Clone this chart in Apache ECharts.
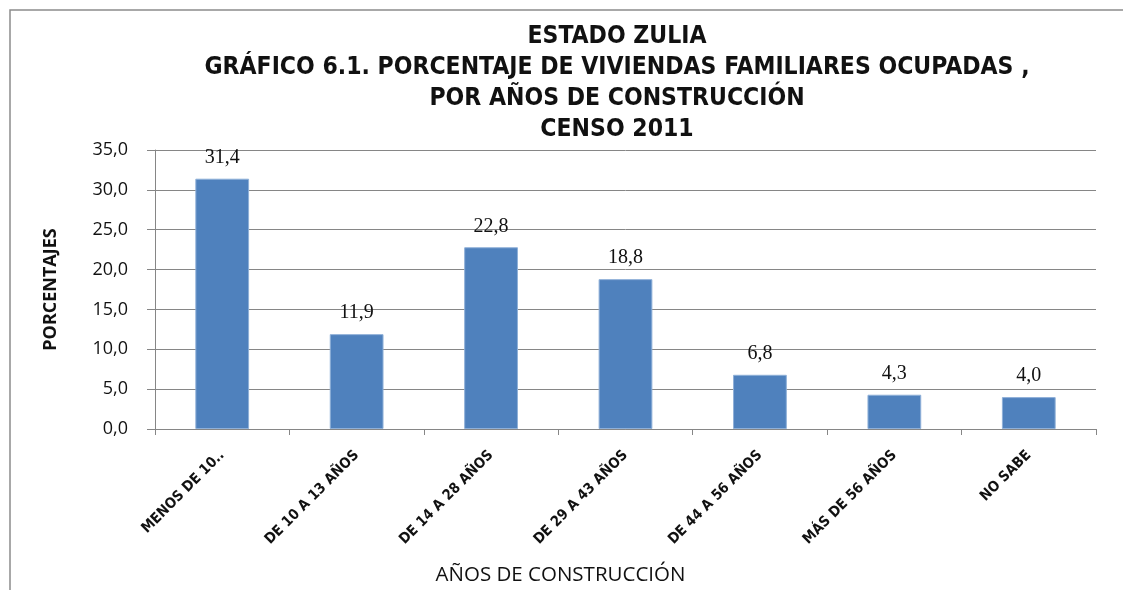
<!DOCTYPE html>
<html>
<head>
<meta charset="utf-8">
<script src="https://cdn.jsdelivr.net/npm/echarts@6/dist/echarts.min.js"></script>
<style>
	html, body { margin: 0; padding: 0; background: #fff; }
	#chart { width: 1123px; height: 590px; }
</style>
</head>
<body>
<div id="chart"></div>
<script>
var categories = ['MENOS DE 10..', 'DE 10 A 13 AÑOS', 'DE 14 A 28 AÑOS', 'DE 29 A 43 AÑOS', 'DE 44 A 56 AÑOS', 'MÁS DE 56 AÑOS', 'NO SABE'];
var porcentajes = [31.4, 11.9, 22.8, 18.8, 6.8, 4.3, 4.0];
var titleLines = ['ESTADO ZULIA', 'GRÁFICO 6.1. PORCENTAJE DE VIVIENDAS FAMILIARES OCUPADAS ,', 'POR AÑOS DE CONSTRUCCIÓN', 'CENSO 2011'];

function coma(v) {
	return Number(v).toFixed(1).replace('.', ',');
}

function initGraph(chartId) {
	var dom = document.getElementById(chartId);
	var myChart = echarts.init(dom);
	var condensed = '"DejaVu Sans Condensed", "Liberation Sans Narrow", sans-serif';

	var option = {
		animation: false,
		backgroundColor: '#fff',
		title: {
			text: titleLines.join('\n'),
			left: 612,
			top: 16,
			textAlign: 'center',
			textStyle: {
				color: '#111',
				fontSize: 24.5,
				fontWeight: 'bold',
				fontFamily: condensed,
				lineHeight: 31
			}
		},
		graphic: [{
			type: 'polyline',
			shape: { points: [[10, 590], [10, 10], [1123, 10]] },
			style: { stroke: '#8c8c8c', lineWidth: 1.5, fill: null }
		}],
		grid: {
			left: 155,
			right: 27,
			top: 150,
			bottom: 161,
			containLabel: false,
			outerBoundsMode: 'none'
		},
		xAxis: {
			type: 'category',
			data: categories,
			name: 'AÑOS DE CONSTRUCCIÓN',
			nameLocation: 'middle',
			nameGap: 136,
			nameTextStyle: {
				color: '#111',
				fontSize: 20.5,
				fontFamily: '"Open Sans", sans-serif',
				padding: [0, 130, 0, 0]
			},
			axisLine: { lineStyle: { color: '#868686' } },
			axisTick: { show: true, length: 6, lineStyle: { color: '#868686' } },
			axisLabel: {
				interval: 0,
				rotate: 45,
				margin: 24,
				color: '#111',
				fontSize: 14.5,
				fontWeight: 'bold',
				fontFamily: condensed
			}
		},
		yAxis: {
			type: 'value',
			min: 0,
			max: 35,
			interval: 5,
			name: 'PORCENTAJES',
			nameLocation: 'middle',
			nameGap: 95,
			nameRotate: 90,
			nameTextStyle: {
				color: '#111',
				fontSize: 18,
				fontWeight: 'bold',
				fontFamily: '"Open Sans", sans-serif'
			},
			axisLine: { show: true, lineStyle: { color: '#868686' } },
			axisTick: { show: true, length: 8, lineStyle: { color: '#868686' } },
			axisLabel: {
				margin: 27,
				color: '#111',
				fontSize: 18,
				fontFamily: '"Open Sans", sans-serif',
				formatter: coma
			},
			splitLine: {
				show: true,
				lineStyle: { color: '#868686' }
			}
		},
		series: [{
			name: 'Porcentaje',
			type: 'bar',
			data: porcentajes,
			barWidth: '40%',
			itemStyle: { color: '#4F81BD', borderColor: '#8fb0d8', borderWidth: 1 },
			label: {
				show: true,
				position: 'top',
				distance: 11,
				color: '#111',
				fontSize: 20,
				fontFamily: '"Liberation Serif", serif',
				formatter: function(p) { return coma(p.value); }
			}
		}]
	};

	if(option && typeof option === "object") {
		myChart.setOption(option, true);
	}
}

onload = function() {
	initGraph('chart');
}
</script>
</body>
</html>
